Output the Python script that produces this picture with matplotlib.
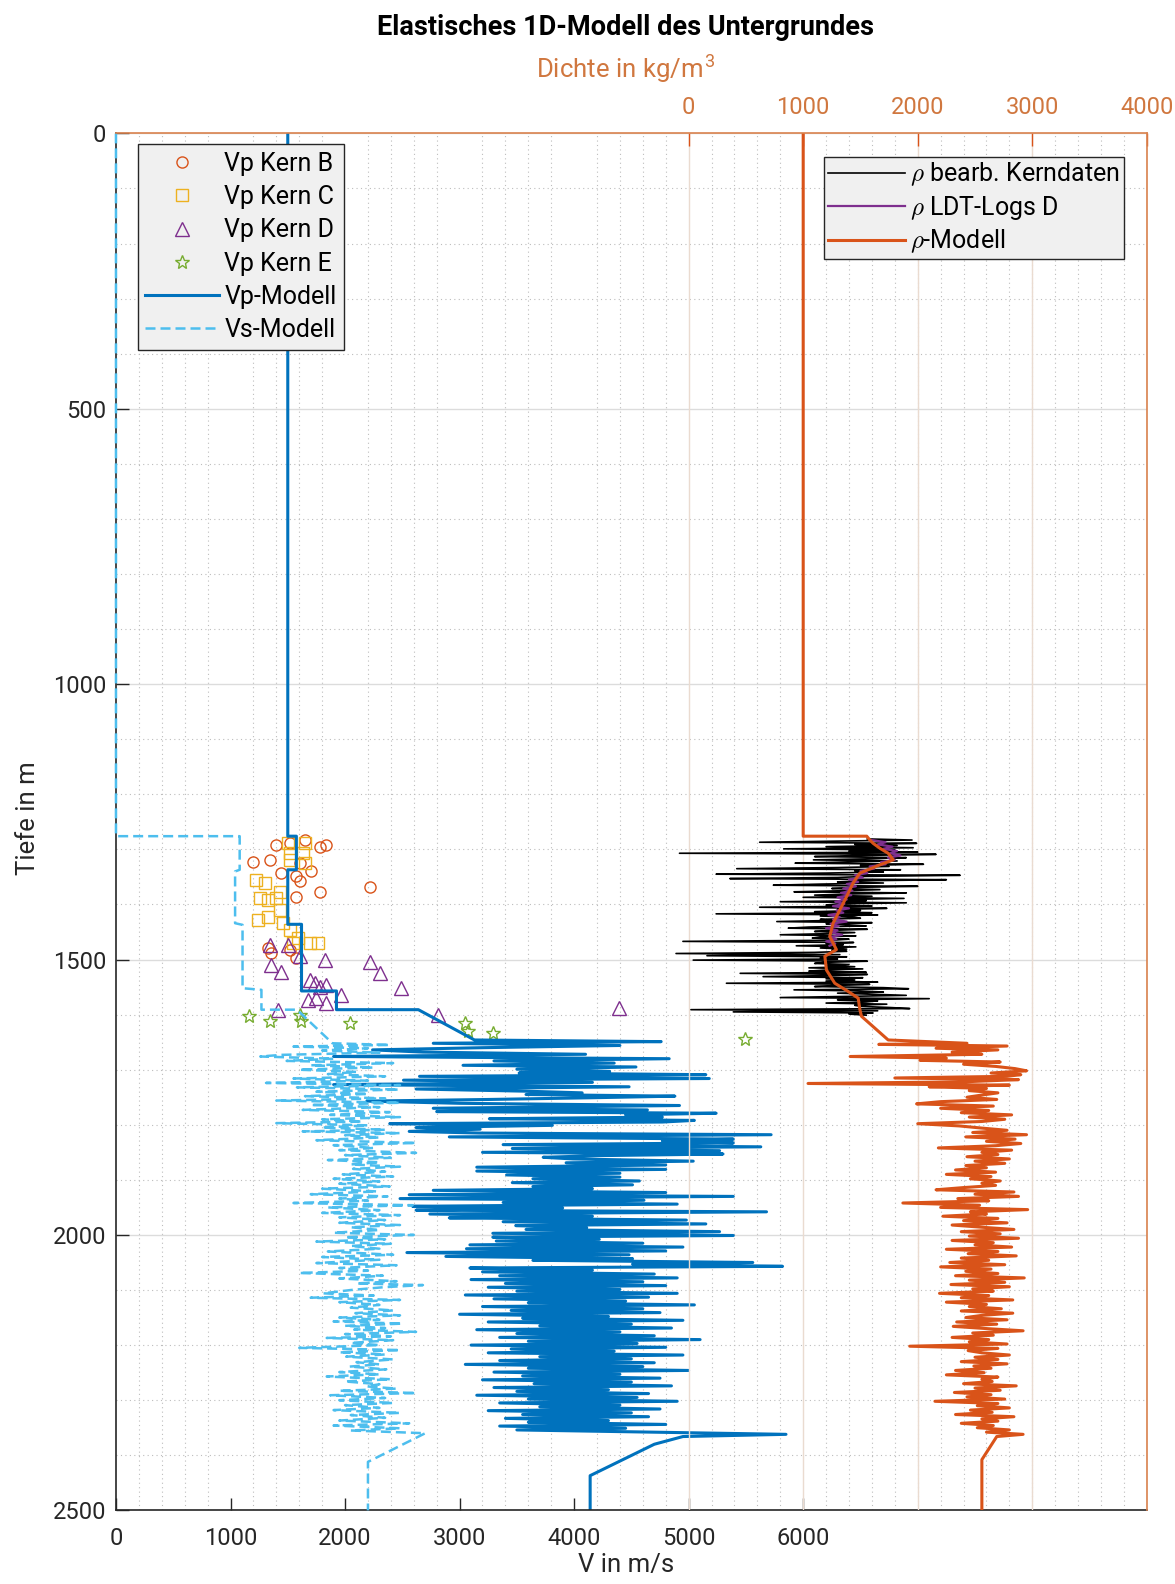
import matplotlib
matplotlib.use("Agg")
import matplotlib.pyplot as plt
from matplotlib.ticker import MultipleLocator, FixedLocator

plt.rcParams['font.family'] = ['Roboto', 'DejaVu Sans']
plt.rcParams['mathtext.fontset'] = 'cm'

# ---------------- core measurements (Vp in m/s, depth in m) ----------------
kern_b_v = [1400, 1517, 1648, 1779, 1837, 1197, 1342, 1444, 1604, 1706, 1604, 1779,
            1575, 2215, 1517, 1575, 1328, 1357, 1575]
kern_b_d = [1292, 1289, 1283, 1295, 1292, 1322, 1319, 1343, 1325, 1340, 1358, 1377,
            1386, 1369, 1482, 1497, 1479, 1488, 1349]

kern_c_v = [1502, 1648, 1634, 1517, 1648, 1226, 1299, 1430, 1255, 1328, 1401, 1241,
            1328, 1430, 1459, 1517, 1590, 1692, 1764, 1546, 1517]
kern_c_d = [1289, 1289, 1307, 1319, 1325, 1355, 1361, 1377, 1389, 1392, 1389, 1428,
            1422, 1410, 1434, 1446, 1461, 1470, 1470, 1470, 1307]

kern_d_v = [1342, 1502, 1357, 1444, 1604, 1822, 2215, 2302, 2492, 1692, 1735, 1779,
            1837, 1677, 1750, 1837, 1968, 1415, 2812, 4390]
kern_d_d = [1473, 1473, 1510, 1522, 1494, 1501, 1504, 1525, 1552, 1537, 1543, 1549,
            1546, 1573, 1570, 1579, 1564, 1591, 1600, 1588]

kern_e_v = [1162, 1342, 1604, 1619, 2041, 3044, 3073, 3292, 5488]
kern_e_d = [1603, 1612, 1600, 1612, 1615, 1615, 1630, 1633, 1644]

# ---------------- Vp model ----------------
vp_depth = [0, 1276, 1276, 1337, 1337, 1436, 1436, 1557, 1557, 1591, 1591, 1646,
            1649, 1652, 1656, 1660, 1664, 1668, 1672, 1676, 1680, 1684, 1688, 1692,
            1695, 1699, 1703, 1706, 1709, 1712, 1716, 1719, 1723, 1727, 1731, 1735,
            1739, 1742, 1745, 1748, 1751, 1754, 1757, 1761, 1765, 1770, 1773, 1776,
            1779, 1782, 1786, 1789, 1792, 1795, 1798, 1801, 1805, 1808, 1812, 1815,
            1818, 1822, 1826, 1829, 1833, 1836, 1840, 1843, 1847, 1850, 1853, 1856,
            1859, 1862, 1866, 1869, 1873, 1877, 1881, 1884, 1888, 1891, 1895, 1898,
            1902, 1905, 1909, 1912, 1916, 1919, 1923, 1927, 1930, 1934, 1937, 1941,
            1944, 1948, 1951, 1955, 1958, 1962, 1966, 1969, 1973, 1976, 1980, 1983,
            1987, 1990, 1994, 1997, 2001, 2004, 2008, 2011, 2015, 2018, 2022, 2025,
            2029, 2032, 2036, 2039, 2043, 2046, 2050, 2053, 2057, 2060, 2064, 2067,
            2071, 2074, 2078, 2081, 2085, 2088, 2092, 2095, 2099, 2102, 2106, 2109,
            2113, 2116, 2120, 2123, 2127, 2130, 2134, 2137, 2141, 2144, 2148, 2151,
            2155, 2158, 2162, 2165, 2169, 2172, 2176, 2179, 2183, 2186, 2190, 2193,
            2197, 2200, 2204, 2207, 2211, 2214, 2218, 2221, 2225, 2228, 2232, 2235,
            2239, 2242, 2246, 2249, 2253, 2256, 2260, 2263, 2267, 2270, 2274, 2277,
            2281, 2284, 2288, 2291, 2295, 2298, 2302, 2305, 2309, 2312, 2316, 2319,
            2323, 2326, 2330, 2333, 2337, 2340, 2344, 2347, 2351, 2354, 2358, 2362,
            2366, 2380, 2437, 2500]
vp_value = [1500, 1500, 1575, 1575, 1500, 1500, 1620, 1620, 1925, 1925, 2640, 3130,
            4760, 2770, 4400, 3200, 2240, 2680, 4100, 1900, 4830, 3300, 4350, 3030,
            4540, 3500, 4310, 3520, 5150, 2650, 5180, 2510, 4160, 1900, 4480, 2620,
            3580, 4070, 3580, 4880, 4130, 3260, 2190, 3000, 4920, 2770, 4640, 2800,
            5240, 4450, 4770, 3260, 5050, 4770, 2390, 3810, 2620, 3180, 2560, 3180,
            5720, 2910, 5390, 4770, 5390, 3380, 5630, 3460, 5270, 3200, 5300, 4220,
            3730, 3990, 5040, 3930, 4800, 3150, 4800, 3150, 4400, 3410, 4400, 3640,
            4570, 3460, 4510, 3640, 4160, 2770, 4800, 2560, 5390, 2480, 4610, 3380,
            4900, 2590, 3900, 2620, 5680, 2740, 4160, 2910, 4980, 3380, 5150, 3490,
            4110, 3580, 5270, 3290, 5390, 3290, 4220, 3320, 4600, 3090, 4950, 3060,
            4800, 2540, 4480, 2880, 4510, 3640, 5560, 4510, 5820, 3090, 4160, 3200,
            4700, 3350, 4900, 3100, 4600, 3400, 4800, 3250, 4400, 3500, 4900, 3050,
            4650, 3300, 4450, 3600, 5050, 3200, 4600, 3450, 4750, 3000, 4300, 3550,
            4950, 3250, 4500, 3700, 4850, 3150, 4400, 3500, 4700, 3350, 5100, 3600,
            4550, 3100, 4800, 3450, 4350, 3250, 4950, 3700, 4500, 3350, 4700, 3050,
            4600, 3600, 5000, 3300, 4400, 3550, 4750, 3200, 4500, 3650, 4850, 3300,
            4300, 3500, 4650, 3150, 4550, 3600, 4900, 3350, 4400, 3700, 4750, 3250,
            4500, 3550, 4650, 3400, 4300, 3600, 4800, 3350, 4450, 3500, 4700, 5850,
            4950, 4700, 4140, 4140]

# ---------------- Vs model ----------------
vs_depth = [0, 1276, 1276, 1337, 1340, 1434, 1437, 1552, 1555, 1591, 1591, 1652,
            1655, 1658, 1661, 1665, 1669, 1673, 1676, 1680, 1684, 1688, 1692, 1696,
            1700, 1704, 1708, 1712, 1716, 1720, 1724, 1728, 1732, 1736, 1740, 1744,
            1748, 1752, 1756, 1760, 1764, 1768, 1773, 1777, 1782, 1786, 1790, 1794,
            1797, 1801, 1805, 1809, 1812, 1815, 1819, 1823, 1828, 1833, 1837, 1842,
            1846, 1851, 1855, 1860, 1864, 1868, 1872, 1876, 1880, 1885, 1890, 1894,
            1898, 1903, 1907, 1912, 1916, 1921, 1926, 1930, 1934, 1938, 1942, 1946,
            1950, 1955, 1960, 1964, 1968, 1973, 1978, 1982, 1986, 1991, 1996, 2000,
            2004, 2008, 2012, 2016, 2020, 2025, 2030, 2036, 2040, 2045, 2051, 2055,
            2060, 2065, 2069, 2074, 2079, 2084, 2088, 2091, 2095, 2100, 2106, 2110,
            2114, 2118, 2122, 2127, 2132, 2137, 2142, 2146, 2150, 2154, 2157, 2161,
            2165, 2169, 2172, 2176, 2180, 2184, 2187, 2191, 2196, 2200, 2205, 2209,
            2213, 2217, 2221, 2226, 2231, 2235, 2239, 2244, 2249, 2253, 2257, 2262,
            2266, 2271, 2275, 2279, 2283, 2287, 2291, 2296, 2300, 2305, 2309, 2314,
            2318, 2323, 2327, 2332, 2337, 2342, 2346, 2351, 2355, 2360, 2412, 2500]
vs_value = [0, 0, 1080, 1080, 1040, 1040, 1105, 1105, 1270, 1270, 1580, 1890,
            2390, 1550, 2200, 1800, 2300, 1450, 1260, 1900, 1490, 2420, 1700, 2250,
            1600, 2100, 1850, 2350, 1550, 2200, 1310, 2480, 1580, 2470, 1750, 2200,
            1650, 2350, 1400, 2480, 1700, 2300, 1630, 2390, 1870, 2480, 1800, 2150,
            1400, 2200, 1800, 2350, 1630, 2480, 2000, 2300, 1750, 2620, 1900, 2250,
            1950, 2620, 2000, 2400, 1850, 2300, 2050, 2480, 2070, 2350, 1980, 2420,
            1900, 2300, 1950, 2390, 1800, 2280, 1700, 2370, 1950, 2200, 1550, 2590,
            1850, 2300, 1800, 2480, 1950, 2350, 1950, 2480, 2050, 2300, 1900, 2600,
            2000, 2350, 1750, 2400, 2050, 2300, 1850, 2420, 1800, 2300, 1750, 2450,
            1950, 2200, 1600, 2330, 1950, 2450, 2100, 2680, 2330, 2050, 1810, 2250,
            1700, 2480, 1950, 2300, 2050, 2420, 2090, 2480, 1950, 2300, 1900, 2500,
            2000, 2350, 2080, 2620, 2000, 2400, 1840, 2420, 2050, 2300, 1600, 2480,
            1950, 2350, 2010, 2420, 2100, 2300, 2040, 2360, 1950, 2300, 1840, 2400,
            2000, 2300, 2190, 2450, 1950, 2620, 1870, 2350, 1950, 2420, 2000, 2300,
            1900, 2480, 2050, 2350, 1950, 2560, 1900, 2480, 2050, 2700, 2200, 2200]

# ---------------- density (kg/m^3) ----------------
rho_depth = [0, 1276, 1276, 1283, 1289, 1298, 1307, 1319, 1328, 1343, 1361, 1386,
             1410, 1434, 1458, 1482, 1494, 1519, 1543, 1558, 1570, 1591, 1603, 1646,
             1652, 1654, 1657, 1661, 1664, 1668, 1672, 1676, 1679, 1683, 1686, 1690,
             1694, 1698, 1702, 1706, 1709, 1712, 1715, 1718, 1722, 1725, 1728, 1731,
             1734, 1738, 1742, 1746, 1750, 1754, 1758, 1762, 1766, 1770, 1774, 1778,
             1782, 1786, 1790, 1794, 1798, 1802, 1806, 1810, 1814, 1818, 1822, 1826,
             1830, 1834, 1838, 1842, 1846, 1850, 1854, 1858, 1862, 1866, 1870, 1874,
             1878, 1882, 1886, 1890, 1894, 1898, 1902, 1906, 1910, 1914, 1918, 1922,
             1926, 1930, 1934, 1938, 1942, 1946, 1950, 1954, 1958, 1962, 1966, 1970,
             1974, 1978, 1982, 1986, 1990, 1994, 1998, 2002, 2006, 2010, 2014, 2018,
             2022, 2026, 2030, 2034, 2038, 2042, 2046, 2050, 2054, 2058, 2062, 2066,
             2070, 2074, 2078, 2082, 2086, 2090, 2094, 2098, 2102, 2106, 2110, 2114,
             2118, 2122, 2126, 2130, 2134, 2138, 2142, 2146, 2150, 2154, 2158, 2162,
             2166, 2170, 2174, 2178, 2182, 2186, 2190, 2194, 2198, 2202, 2206, 2210,
             2214, 2218, 2222, 2226, 2230, 2234, 2238, 2242, 2246, 2250, 2254, 2258,
             2262, 2266, 2270, 2274, 2278, 2282, 2286, 2290, 2294, 2298, 2302, 2306,
             2310, 2314, 2318, 2322, 2326, 2330, 2334, 2338, 2342, 2346, 2350, 2354,
             2358, 2362, 2366, 2408, 2500]
rho_value = [1000, 1000, 1555, 1582, 1611, 1670, 1742, 1786, 1670, 1495, 1436, 1378,
             1320, 1261, 1232, 1290, 1189, 1203, 1276, 1393, 1480, 1495, 1509, 1742,
             2430, 1660, 2780, 2160, 2700, 2300, 2560, 1410, 2250, 2020, 2720, 2400,
             2680, 2850, 2950, 2640, 2900, 2780, 1800, 2880, 2400, 1042, 2800, 2100,
             2600, 2450, 2700, 2560, 2430, 2690, 2200, 1990, 2660, 2200, 2620, 2380,
             2820, 2450, 2760, 2560, 2000, 2360, 2560, 2780, 2480, 2950, 2420, 2850,
             2600, 2900, 2680, 2180, 2820, 2560, 2700, 2430, 2800, 2500, 2760, 2420,
             2600, 2330, 2680, 2250, 2640, 2460, 2720, 2560, 2680, 2400, 2160, 2840,
             2500, 2880, 2350, 2620, 1870, 2540, 2200, 2960, 2460, 2600, 2220, 2700,
             2400, 2780, 2300, 2560, 2840, 2380, 2720, 2450, 2880, 2300, 2660, 2500,
             2820, 2250, 2700, 2440, 2860, 2380, 2620, 2280, 2760, 2200, 2640, 2420,
             2700, 2330, 2930, 2450, 2760, 2290, 2800, 2480, 2660, 2190, 2620, 2380,
             2830, 2250, 2600, 2450, 2730, 2380, 2830, 2560, 2420, 2780, 2340, 2690,
             2310, 2600, 2920, 2480, 2660, 2300, 2620, 2450, 2780, 1930, 2700, 2440,
             2560, 2800, 2500, 2700, 2380, 2780, 2490, 2640, 2330, 2580, 2250, 2700,
             2560, 2650, 2400, 2860, 2500, 2720, 2320, 2640, 2430, 2760, 2150, 2700,
             2520, 2800, 2460, 2650, 2330, 2840, 2560, 2700, 2380, 2660, 2520, 2800,
             2600, 2920, 2690, 2560, 2560]

# processed core densities
kern_rho_depth = [1281, 1283, 1285, 1287, 1289, 1291, 1293, 1295, 1297, 1299, 1301, 1303,
                  1305, 1307, 1309, 1311, 1313, 1315, 1317, 1319, 1321, 1323, 1325, 1327,
                  1329, 1331, 1333, 1335, 1337, 1339, 1341, 1343, 1345, 1347, 1349, 1351,
                  1353, 1355, 1357, 1359, 1361, 1363, 1365, 1367, 1369, 1371, 1373, 1375,
                  1377, 1379, 1381, 1383, 1385, 1387, 1389, 1391, 1393, 1395, 1397, 1399,
                  1401, 1403, 1405, 1407, 1409, 1411, 1413, 1415, 1417, 1419, 1421, 1423,
                  1425, 1427, 1429, 1431, 1433, 1435, 1437, 1439, 1441, 1443, 1445, 1447,
                  1449, 1451, 1453, 1455, 1457, 1459, 1461, 1463, 1465, 1467, 1469, 1471,
                  1473, 1475, 1477, 1479, 1481, 1483, 1485, 1487, 1489, 1491, 1493, 1495,
                  1497, 1499, 1501, 1503, 1505, 1507, 1509, 1511, 1513, 1515, 1517, 1519,
                  1521, 1523, 1525, 1527, 1529, 1531, 1533, 1535, 1537, 1539, 1541, 1543,
                  1545, 1547, 1549, 1551, 1553, 1555, 1557, 1559, 1561, 1563, 1565, 1567,
                  1569, 1571, 1573, 1575, 1577, 1579, 1581, 1583, 1585, 1587, 1589, 1591,
                  1593, 1595, 1597, 1599, 1601]
kern_rho_value = [1560, 1950, 1300, 620, 1990, 1450, 1820, 1200, 1960, 830, 1800, 1400,
                  2000, -80, 2160, 1500, 1100, 1900, 1600, 1090, 1820, 1350, 930, 2050,
                  1500, 1750, 1300, 420, 1850, 1450, 1700, 1200, 240, 2370, 1550, 1300,
                  360, 2250, 1500, 1300, 1700, 1150, 740, 2000, 1450, 1250, 1670, 1350,
                  920, 1900, 1400, 1100, 1600, 1000, 1880, 1340, 1550, 800, 1900, 1300,
                  1200, 1600, 620, 1730, 1300, 1500, 1100, 1600, 240, 1650, 1150, 1450,
                  1500, 1150, 1260, 770, 1600, 1200, 1400, 1550, 1050, 870, 1560, 1250,
                  1100, 1450, 1200, 800, 1460, 1150, 1080, 1400, 1250, -50, 1440, 1200,
                  1350, 940, 1460, 1150, 1380, 1250, 1380, 1100, -110, 1320, 160, 1380,
                  1150, 1300, 40, 1560, 1200, 1100, 1400, 1200, 1450, 1050, 1520, 1200,
                  1050, 1550, 450, 1560, 1250, 650, 1520, 1200, 1450, 1200, 1650, 330,
                  1580, 1300, 1100, 1700, 1920, 920, 1500, 1700, 1300, 1600, 1900, 1350,
                  800, 2100, 1300, 1650, 1550, 1200, 1730, 1450, 1500, 1750, 1930, 20,
                  1650, 390, 1610, 1400, 1550]

# LDT log densities, well D
ldt_depth = [1283, 1287, 1291, 1295, 1299, 1303, 1307, 1311, 1315, 1319, 1323, 1327,
             1331, 1335, 1339, 1343, 1347, 1351, 1355, 1359, 1363, 1367, 1371, 1375,
             1379, 1383, 1387, 1391, 1395, 1399, 1403, 1407, 1411, 1415, 1419, 1423,
             1427, 1431, 1435, 1439, 1443, 1447, 1451, 1455, 1459, 1463, 1467, 1471,
             1475]
ldt_value = [1600, 1720, 1650, 1780, 1700, 1820, 1760, 1850, 1740, 1800, 1680, 1720,
             1580, 1620, 1500, 1560, 1450, 1520, 1400, 1480, 1380, 1460, 1350, 1430,
             1330, 1420, 1300, 1380, 1280, 1360, 1260, 1400, 1290, 1350, 1220, 1320,
             1260, 1380, 1240, 1310, 1200, 1300, 1250, 1340, 1230, 1290, 1200, 1280,
             1230]

v_ticks = [0, 1000, 2000, 3000, 4000, 5000, 6000]
rho_ticks = [0, 1000, 2000, 3000, 4000]
depth_ticks = [0, 500, 1000, 1500, 2000, 2500]

# ---------------- colours ----------------
C_VP = '#0072BD'
C_VS = '#4DBEEE'
C_RHO = '#D95319'
C_B = '#D95319'
C_C = '#EDB120'
C_D = '#7E2F8E'
C_E = '#77AC30'
C_TXT = '#262626'
C_TOP = '#D0773F'

TICK_FS = 17
LEG_FS = 18
LAB_FS = 18.5

fig = plt.figure(figsize=(11.75, 15.84), dpi=100)
ax = fig.add_axes([0.0987, 0.0465, 0.8773, 0.8693])
ax.set_xlim(0, 9000)
ax.set_ylim(2500, 0)

# grid
ax.xaxis.set_minor_locator(MultipleLocator(200))
ax.yaxis.set_minor_locator(MultipleLocator(100))
ax.grid(which='minor', axis='both', linestyle=(0, (1, 3)), color='#BDBDBD', linewidth=0.8)
ax.grid(which='major', axis='y', linestyle='-', color='#DCDCDC', linewidth=1.0)
ax.set_axisbelow(True)

ax.xaxis.set_major_locator(FixedLocator(v_ticks))
ax.yaxis.set_major_locator(FixedLocator(depth_ticks))
ax.tick_params(which='major', direction='in', length=9, width=1.0, colors=C_TXT,
               labelsize=TICK_FS, top=False, right=False)
ax.tick_params(axis='x', which='major', pad=12)
ax.tick_params(axis='y', which='major', pad=7)
ax.tick_params(which='minor', length=0)
for s in ('left', 'bottom'):
    ax.spines[s].set_color(C_TXT)
    ax.spines[s].set_linewidth(1.2)
for s in ('top', 'right'):
    ax.spines[s].set_visible(False)

# velocity data
mk = dict(linestyle='none', markerfacecolor='none', markeredgewidth=1.0)
hb, = ax.plot(kern_b_v, kern_b_d, marker='o', markersize=8, color=C_B, label='Vp Kern B', **mk)
hc, = ax.plot(kern_c_v, kern_c_d, marker='s', markersize=9, color=C_C, label='Vp Kern C', **mk)
hd, = ax.plot(kern_d_v, kern_d_d, marker='^', markersize=10, color=C_D, label='Vp Kern D', **mk)
he, = ax.plot(kern_e_v, kern_e_d, marker='*', markersize=10, color=C_E, label='Vp Kern E', **mk)
hvp, = ax.plot(vp_value, vp_depth, color=C_VP, linewidth=2.2, label='Vp-Modell')
hvs, = ax.plot(vs_value, vs_depth, color=C_VS, linewidth=1.8, linestyle=(0, (4, 2)),
               label='Vs-Modell', clip_on=False, zorder=3)

leg1 = ax.legend(handles=[hb, hc, hd, he, hvp, hvs], loc='upper left',
                 bbox_to_anchor=(0.0213, 0.992), borderaxespad=0, fontsize=LEG_FS,
                 frameon=True, fancybox=False, facecolor='#F0F0F0', edgecolor=C_TXT,
                 framealpha=1, handlelength=2.95, handletextpad=0.2, labelspacing=0.37,
                 borderpad=0.3)
leg1.get_frame().set_linewidth(1.0)
leg1.set_zorder(5)

# density axis on top
ax2 = ax.twiny()
ax2.set_xlim(-5000, 4000)
ax2.set_ylim(2500, 0)
ax2.xaxis.set_major_locator(FixedLocator(rho_ticks))
ax2.grid(which='major', axis='x', linestyle='-', color='#EADBD0', linewidth=1.0)
ax2.set_axisbelow(True)
ax2.tick_params(axis='x', which='major', direction='in', length=9, width=1.0,
                colors=C_RHO, labelcolor=C_TOP, labelsize=TICK_FS, pad=10)
ax2.tick_params(axis='y', left=False, right=False, labelleft=False, labelright=False)
for s in ('top', 'right'):
    ax2.spines[s].set_color('#D9824E')
    ax2.spines[s].set_linewidth(1.2)
for s in ('left', 'bottom'):
    ax2.spines[s].set_visible(False)

hk, = ax2.plot(kern_rho_value, kern_rho_depth, color='black', linewidth=1.2,
               label=r'$\rho$ bearb. Kerndaten')
hl, = ax2.plot(ldt_value, ldt_depth, color=C_D, linewidth=1.6, label=r'$\rho$ LDT-Logs D')
hr, = ax2.plot(rho_value, rho_depth, color=C_RHO, linewidth=2.2, label=r'$\rho$-Modell')

leg2 = ax2.legend(handles=[hk, hl, hr], loc='upper right',
                  bbox_to_anchor=(0.9777, 0.9829), borderaxespad=0, fontsize=LEG_FS,
                  frameon=True, fancybox=False, facecolor='#F0F0F0', edgecolor=C_TXT,
                  framealpha=1, handlelength=3.1, handletextpad=0.2, labelspacing=0.22,
                  borderpad=0.15)
leg2.get_frame().set_linewidth(1.0)

# titles and axis labels
fig.text(0.5325, 0.9828, 'Elastisches 1D-Modell des Untergrundes', ha='center',
         va='center', fontsize=19.5, fontweight='bold', color='black')
fig.text(0.5325, 0.9566, r'Dichte in kg/m$^\mathregular{3}$', ha='center', va='center',
         fontsize=LAB_FS, color=C_TOP)
fig.text(0.5325, 0.0045, 'V in m/s', ha='center', va='bottom', fontsize=LAB_FS,
         color=C_TXT)
fig.text(0.024, 0.4835, 'Tiefe in m', ha='center', va='center', fontsize=LAB_FS,
         color=C_TXT, rotation=90)

fig.savefig('out.png', dpi=100, facecolor='white')
